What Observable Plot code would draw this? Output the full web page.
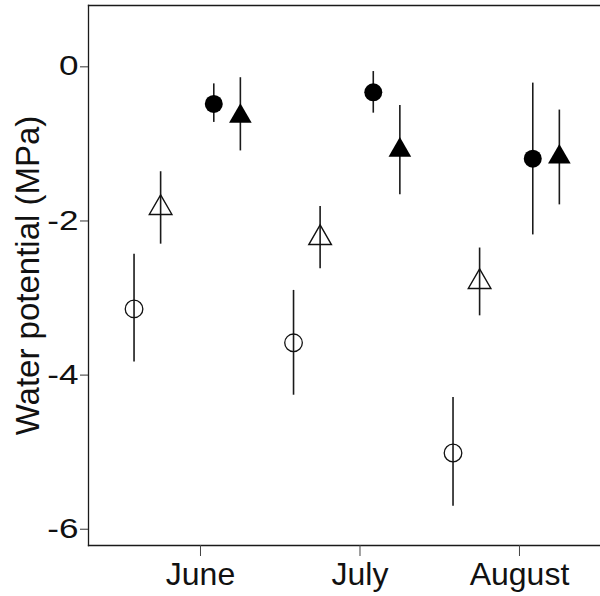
<!DOCTYPE html>
<html>
<head>
<meta charset="utf-8">
<script src="https://cdn.jsdelivr.net/npm/d3@7"></script>
<script src="https://cdn.jsdelivr.net/npm/@observablehq/plot@0.6"></script>
<style>
  html, body { margin: 0; padding: 0; background: #fff; }
  #chart svg { display: block; }
</style>
</head>
<body>
<div id="chart"></div>
<script>
// ---- data ----
const months = ["June", "July", "August"];
const yTicks = [0, -2, -4, -6];
const yLabel = "Water potential (MPa)";
// dodge offset of each series within a month (fraction of month spacing)
const dodge = [-5 / 12, -3 / 12, 1 / 12, 3 / 12];

const openCircleMean = [-3.18, -3.62, -5.05];
const openCircleHi   = [-2.47, -2.94, -4.33];
const openCircleLo   = [-3.87, -4.30, -5.74];

const openTriangleMean = [-1.87, -2.26, -2.83];
const openTriangleHi   = [-1.40, -1.85, -2.39];
const openTriangleLo   = [-2.34, -2.66, -3.27];

const filledCircleMean = [-0.52, -0.37, -1.23];
const filledCircleHi   = [-0.26, -0.10, -0.25];
const filledCircleLo   = [-0.76, -0.64, -2.22];

const filledTriangleMean = [-0.68, -1.12, -1.21];
const filledTriangleHi   = [-0.18, -0.54, -0.60];
const filledTriangleLo   = [-1.13, -1.70, -1.83];

const series = [
  {name: "openCircle",     mean: openCircleMean,     hi: openCircleHi,     lo: openCircleLo},
  {name: "openTriangle",   mean: openTriangleMean,   hi: openTriangleHi,   lo: openTriangleLo},
  {name: "filledCircle",   mean: filledCircleMean,   hi: filledCircleHi,   lo: filledCircleLo},
  {name: "filledTriangle", mean: filledTriangleMean, hi: filledTriangleHi, lo: filledTriangleLo}
];

const rows = [];
series.forEach((s, si) => {
  months.forEach((m, mi) => {
    rows.push({series: s.name, month: m, x: mi + 1 + dodge[si], mean: s.mean[mi], hi: s.hi[mi], lo: s.lo[mi]});
  });
});
const bySeries = name => rows.filter(d => d.series === name);

const font = "'Liberation Sans', Arial, Helvetica, sans-serif";

const chart = Plot.plot({
  width: 600,
  height: 596,
  marginLeft: 88,
  marginRight: 0,
  marginTop: 5,
  marginBottom: 51,
  style: {fontFamily: font, background: "#fff", color: "#111"},
  x: {domain: [0.2978, 3.508]},
  y: {domain: [-6.25, 0.757]},
  marks: [
    Plot.frame({anchor: "left", stroke: "#1a1a1a", strokeWidth: 1.3}),
    Plot.frame({anchor: "top", stroke: "#1a1a1a", strokeWidth: 1.3}),
    Plot.frame({anchor: "bottom", stroke: "#1a1a1a", strokeWidth: 1.3}),
    Plot.axisY({
      ticks: yTicks,
      tickFormat: d => String(d),
      tickSize: 8,
      tickPadding: 2,
      fontSize: 27,
      dy: 3,
      label: null,
      stroke: "#333",
      color: "#111"
    }),
    Plot.axisX({
      ticks: [1, 2, 3],
      tickFormat: d => months[d - 1],
      tickSize: 11,
      tickPadding: 6,
      fontSize: 32,
      label: null,
      stroke: "#444",
      color: "#111"
    }),
    Plot.text([yLabel], {
      frameAnchor: "left",
      dx: -50,
      rotate: -90,
      fontSize: 33,
      textAnchor: "middle",
      lineAnchor: "bottom",
      fill: "#111"
    }),
    Plot.ruleX(rows, {x: "x", y1: "lo", y2: "hi", stroke: "#1a1a1a", strokeWidth: 1.6}),
    Plot.dot(bySeries("openCircle"), {x: "x", y: "mean", r: 8.8, symbol: "circle", fill: "none", stroke: "#111", strokeWidth: 1.3}),
    Plot.dot(bySeries("openTriangle"), {x: "x", y: "mean", r: 8.4, symbol: d3.symbolTriangle, fill: "none", stroke: "#111", strokeWidth: 1.4}),
    Plot.dot(bySeries("filledCircle"), {x: "x", y: "mean", r: 9, symbol: "circle", fill: "#000", stroke: "none"}),
    Plot.dot(bySeries("filledTriangle"), {x: "x", y: "mean", r: 8.4, symbol: d3.symbolTriangle, fill: "#000", stroke: "none"})
  ]
});

// the reference's y tick labels are horizontally stretched
d3.select(chart).selectAll('g[aria-label="y-axis tick label"] text').each(function () {
  const t = this.getAttribute("transform");
  if (t) {
    this.setAttribute("transform", t + " scale(1.3,1)");
  } else {
    const x = this.getAttribute("x") || 0;
    const y = this.getAttribute("y") || 0;
    this.removeAttribute("x");
    this.removeAttribute("y");
    this.setAttribute("transform", `translate(${x},${y}) scale(1.3,1)`);
  }
});

document.getElementById("chart").appendChild(chart);
</script>
</body>
</html>
